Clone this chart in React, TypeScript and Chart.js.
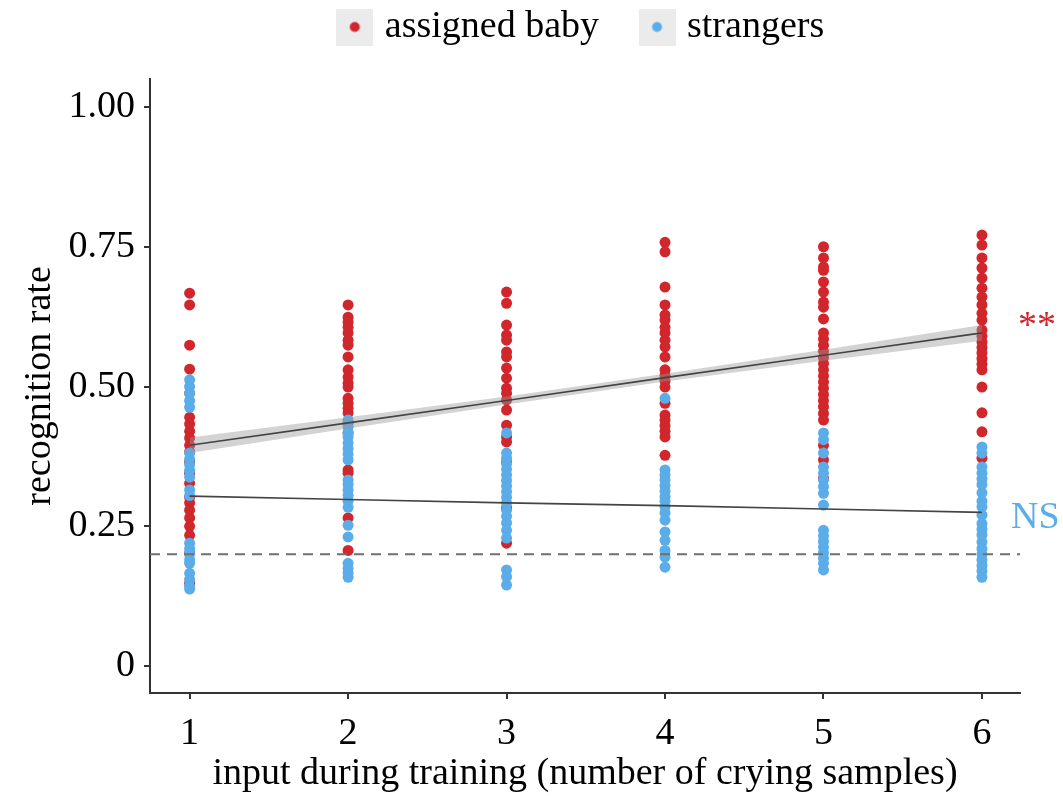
import React, { useEffect, useRef } from 'react';
import { Chart, registerables } from 'chart.js';

Chart.register(...registerables);

// ---- axis ticks ----
const xTicks = [1, 2, 3, 4, 5, 6];
const yTicks = [0, 0.25, 0.5, 0.75, 1];
const yTickLabels = ['0', '0.25', '0.50', '0.75', '1.00'];
const xRange = [0.75, 6.24];
const yRange = [-0.048, 1.05];

// ---- series labels ----
const seriesNames = ['assigned baby', 'strangers'];
const seriesColors = ['#d1262b', '#5badea'];

// ---- assigned baby recognition rates, per number of crying samples ----
const assigned1 = [0.667, 0.646, 0.574, 0.531, 0.488, 0.445, 0.433, 0.42, 0.408, 0.395, 0.383, 0.365, 0.345, 0.327, 0.302, 0.292, 0.279, 0.265, 0.25, 0.234, 0.202, 0.148];
const assigned2 = [0.646, 0.624, 0.615, 0.606, 0.596, 0.583, 0.574, 0.553, 0.53, 0.517, 0.506, 0.499, 0.479, 0.47, 0.461, 0.453, 0.435, 0.417, 0.351, 0.345, 0.265, 0.207];
const assigned3 = [0.669, 0.649, 0.61, 0.592, 0.583, 0.562, 0.553, 0.533, 0.515, 0.497, 0.488, 0.476, 0.458, 0.431, 0.41, 0.401, 0.365, 0.283, 0.22];
const assigned4 = [0.758, 0.741, 0.678, 0.646, 0.628, 0.619, 0.606, 0.596, 0.583, 0.571, 0.553, 0.53, 0.52, 0.51, 0.499, 0.47, 0.449, 0.44, 0.43, 0.42, 0.41, 0.377];
const assigned5 = [0.75, 0.73, 0.714, 0.708, 0.687, 0.669, 0.651, 0.642, 0.621, 0.596, 0.585, 0.574, 0.563, 0.552, 0.541, 0.53, 0.519, 0.508, 0.497, 0.486, 0.475, 0.464, 0.452, 0.44, 0.395, 0.369, 0.336];
const assigned6 = [0.771, 0.753, 0.73, 0.712, 0.694, 0.676, 0.66, 0.646, 0.631, 0.619, 0.601, 0.59, 0.58, 0.57, 0.56, 0.55, 0.54, 0.53, 0.499, 0.453, 0.419, 0.372];

// ---- strangers recognition rates ----
const strangers1 = [0.512, 0.5, 0.488, 0.475, 0.463, 0.381, 0.37, 0.36, 0.35, 0.338, 0.315, 0.305, 0.22, 0.21, 0.2, 0.19, 0.184, 0.166, 0.155, 0.143, 0.138];
const strangers2 = [0.44, 0.428, 0.417, 0.41, 0.399, 0.389, 0.379, 0.369, 0.333, 0.325, 0.315, 0.305, 0.295, 0.284, 0.252, 0.231, 0.184, 0.175, 0.167, 0.159];
const strangers3 = [0.417, 0.381, 0.372, 0.362, 0.352, 0.342, 0.332, 0.322, 0.312, 0.302, 0.292, 0.279, 0.268, 0.256, 0.243, 0.229, 0.172, 0.16, 0.145];
const strangers4 = [0.479, 0.351, 0.342, 0.333, 0.323, 0.313, 0.303, 0.295, 0.285, 0.274, 0.261, 0.24, 0.225, 0.207, 0.195, 0.177];
const strangers5 = [0.417, 0.405, 0.381, 0.356, 0.345, 0.333, 0.321, 0.309, 0.288, 0.243, 0.233, 0.223, 0.213, 0.203, 0.193, 0.184, 0.172];
const strangers6 = [0.392, 0.381, 0.356, 0.345, 0.335, 0.325, 0.31, 0.295, 0.285, 0.27, 0.255, 0.245, 0.235, 0.222, 0.21, 0.2, 0.19, 0.18, 0.17, 0.159];

// ---- regression fits (at x = 1..6) ----
const assignedFit = [0.395, 0.435, 0.475, 0.516, 0.556, 0.596];
const assignedUpper = [0.409, 0.445, 0.482, 0.523, 0.566, 0.61];
const assignedLower = [0.381, 0.425, 0.468, 0.509, 0.546, 0.582];
const strangersFit = [0.304, 0.298, 0.292, 0.287, 0.281, 0.275];
const chanceLevel = 0.2;

// ---- significance labels ----
const significanceLabels = ['**', 'NS'];

const assignedGroups = [assigned1, assigned2, assigned3, assigned4, assigned5, assigned6];
const strangerGroups = [strangers1, strangers2, strangers3, strangers4, strangers5, strangers6];

const toPoints = (groups: number[][]) =>
  groups.flatMap((vals, i) => vals.map((v) => ({ x: xTicks[i], y: v })));
const toLine = (vals: number[]) => vals.map((v, i) => ({ x: xTicks[i], y: v }));

const FONT = "'Liberation Serif', 'Times New Roman', Times, serif";

function makeLegendIcon(color: string) {
  const c = document.createElement('canvas');
  c.width = 37;
  c.height = 37;
  const g = c.getContext('2d')!;
  g.fillStyle = '#ebebeb';
  g.fillRect(0, 0, 37, 37);
  g.fillStyle = color;
  g.beginPath();
  g.arc(18.5, 18.5, 5, 0, Math.PI * 2);
  g.fill();
  return c;
}

export default function App() {
  const ref = useRef<HTMLCanvasElement | null>(null);

  useEffect(() => {
    document.body.style.margin = '0';
    const canvas = ref.current;
    if (!canvas) return;
    const icons = seriesColors.map(makeLegendIcon);

    const legendSize = {
      id: 'legendSize',
      beforeInit(chart: any) {
        const legend = chart.legend;
        if (!legend) return;
        const origFit = legend.fit;
        legend.fit = function () {
          origFit.call(this);
          this.height = 118;
          if (this.lineWidths && this.lineWidths.length) {
            this.lineWidths[0] -= 148;
          }
        };
      },
    };

    const sigLabels = {
      id: 'sigLabels',
      afterDatasetsDraw(chart: any) {
        const { ctx, chartArea, scales } = chart;
        const ys = [assignedFit[assignedFit.length - 1], strangersFit[strangersFit.length - 1]];
        const dx = [-2, -9];
        const dy = [-6, 6];
        ctx.save();
        ctx.font = `38px ${FONT}`;
        ctx.textAlign = 'left';
        ctx.textBaseline = 'middle';
        significanceLabels.forEach((t, i) => {
          ctx.fillStyle = seriesColors[i];
          ctx.fillText(t, chartArea.right + dx[i], scales.y.getPixelForValue(ys[i]) + dy[i]);
        });
        ctx.restore();
      },
    };

    const chart = new Chart(canvas, {
      type: 'scatter',
      data: {
        datasets: [
          {
            label: seriesNames[0],
            data: toPoints(assignedGroups),
            backgroundColor: seriesColors[0],
            borderWidth: 0,
            pointRadius: 5.5,
            order: 5,
          },
          {
            label: seriesNames[1],
            data: toPoints(strangerGroups),
            backgroundColor: seriesColors[1],
            borderWidth: 0,
            pointRadius: 5.5,
            order: 4,
          },
          {
            type: 'line',
            label: 'chance',
            data: [
              { x: xRange[0], y: chanceLevel },
              { x: xRange[1], y: chanceLevel },
            ],
            borderColor: '#707070',
            borderWidth: 2,
            borderDash: [10, 7],
            pointRadius: 0,
            order: 3,
          },
          {
            type: 'line',
            label: 'band upper',
            data: toLine(assignedUpper),
            borderWidth: 0,
            borderColor: 'rgba(0,0,0,0)',
            backgroundColor: 'rgba(150,150,150,0.42)',
            fill: '+1',
            pointRadius: 0,
            order: 2,
          },
          {
            type: 'line',
            label: 'band lower',
            data: toLine(assignedLower),
            borderWidth: 0,
            borderColor: 'rgba(0,0,0,0)',
            pointRadius: 0,
            order: 2,
          },
          {
            type: 'line',
            label: 'assigned fit',
            data: toLine(assignedFit),
            borderColor: '#444',
            borderWidth: 1.6,
            pointRadius: 0,
            order: 1,
          },
          {
            type: 'line',
            label: 'strangers fit',
            data: toLine(strangersFit),
            borderColor: '#444',
            borderWidth: 1.6,
            pointRadius: 0,
            order: 1,
          },
        ] as any,
      },
      options: {
        animation: false,
        responsive: false,
        layout: { padding: { top: -39, right: 43, left: 0, bottom: 0 } },
        plugins: {
          tooltip: { enabled: false },
          legend: {
            position: 'top',
            labels: {
              usePointStyle: true,
              boxWidth: 22,
              padding: 47,
              color: '#000',
              font: { family: FONT, size: 38 },
              filter: (item: any) => item.datasetIndex < 2,
              sort: (a: any, b: any) => a.datasetIndex - b.datasetIndex,
              generateLabels: (ch: any) => {
                const base = (Chart.defaults.plugins.legend.labels as any).generateLabels(ch);
                return base.map((it: any) =>
                  it.datasetIndex < 2 ? { ...it, pointStyle: icons[it.datasetIndex] } : it
                );
              },
            },
          },
        },
        scales: {
          x: {
            type: 'linear',
            min: xRange[0],
            max: xRange[1],
            afterBuildTicks: (scale: any) => {
              scale.ticks = xTicks.map((v) => ({ value: v }));
            },
            afterFit: (scale: any) => {
              scale.height = 103;
            },
            ticks: {
              color: '#000',
              font: { family: FONT, size: 38 },
              padding: 12,
              maxRotation: 0,
              callback: (v: any) => String(v),
            },
            grid: { drawOnChartArea: false, drawTicks: true, tickLength: 6, color: '#333', lineWidth: 2 },
            border: { display: true, color: '#333', width: 2 },
            title: {
              display: true,
              text: 'input during training (number of crying samples)',
              color: '#000',
              font: { family: FONT, size: 38 },
              padding: { top: 0, bottom: -1 },
            },
          },
          y: {
            type: 'linear',
            min: yRange[0],
            max: yRange[1],
            afterBuildTicks: (scale: any) => {
              scale.ticks = yTicks.map((v) => ({ value: v }));
            },
            afterFit: (scale: any) => {
              scale.width = 150;
            },
            ticks: {
              color: '#000',
              font: { family: FONT, size: 38 },
              padding: 9,
              callback: (v: any) => {
                const i = yTicks.indexOf(v);
                return i >= 0 ? yTickLabels[i] : '';
              },
            },
            grid: { drawOnChartArea: false, drawTicks: true, tickLength: 6, color: '#333', lineWidth: 2 },
            border: { display: true, color: '#333', width: 2 },
            title: {
              display: true,
              text: 'recognition rate',
              color: '#000',
              font: { family: FONT, size: 38 },
              padding: { top: 17, bottom: 0 },
            },
          },
        },
      },
      plugins: [legendSize, sigLabels],
    } as any);

    return () => chart.destroy();
  }, []);

  return (
    <div style={{ width: 1063, height: 796 }}>
      <canvas ref={ref} width={1063} height={796} />
    </div>
  );
}
